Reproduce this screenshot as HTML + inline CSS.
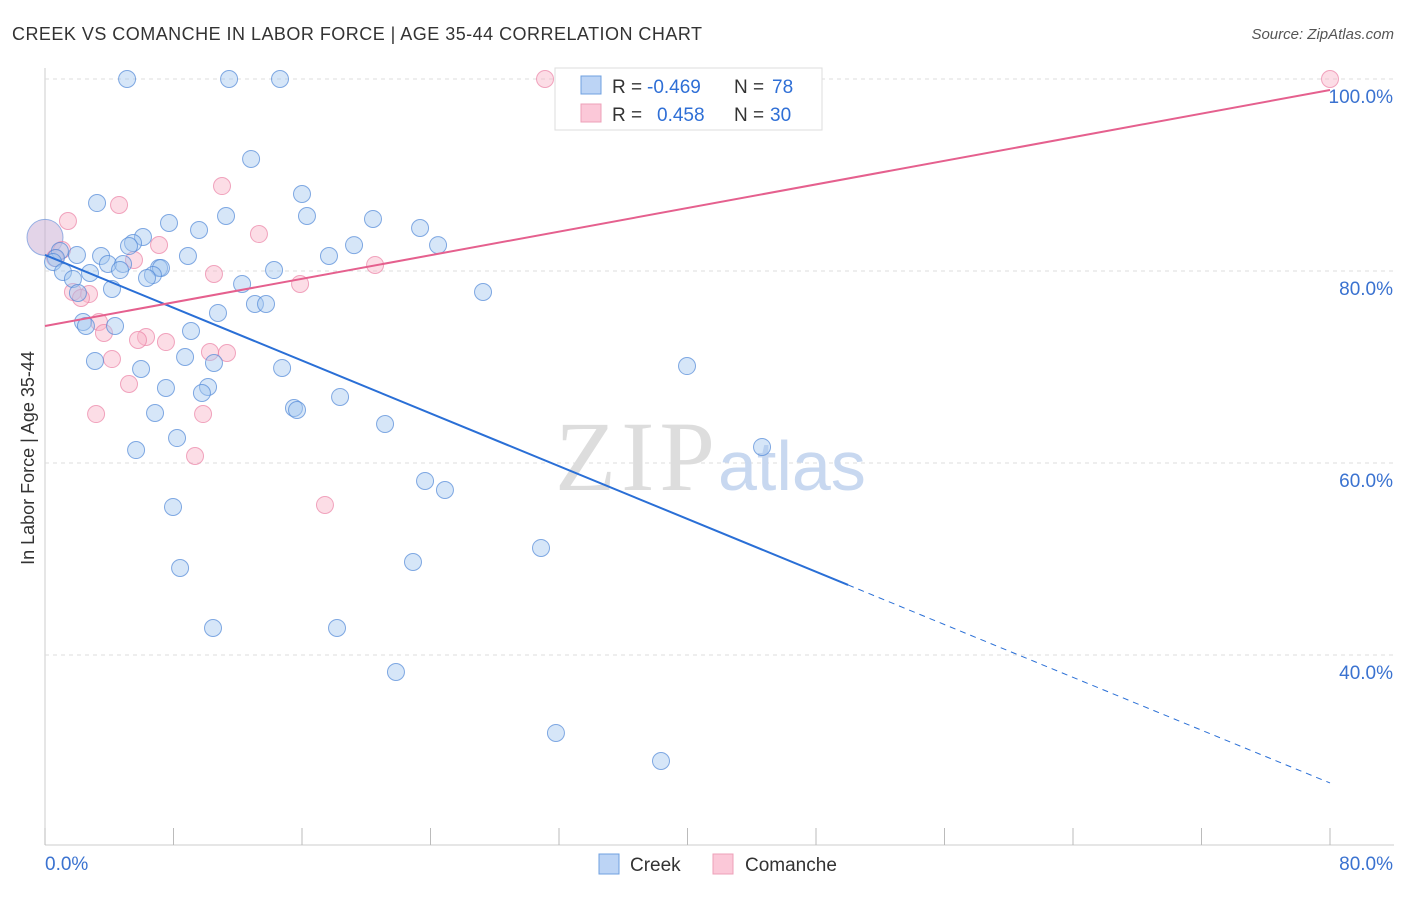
<!DOCTYPE html>
<html><head><meta charset="utf-8"><style>
body{margin:0;background:#fff;font-family:"Liberation Sans",sans-serif}
</style></head><body>
<svg width="1406" height="892" viewBox="0 0 1406 892" xmlns="http://www.w3.org/2000/svg">
<text x="12" y="40" font-size="18" fill="#333" textLength="690">CREEK VS COMANCHE IN LABOR FORCE | AGE 35-44 CORRELATION CHART</text>
<text x="1394" y="39" font-size="15" fill="#555" font-style="italic" text-anchor="end">Source: ZipAtlas.com</text>
<g id="grid"></g>
<text x="715" y="490" font-size="100" font-family="Liberation Serif,serif" fill="#ddd" text-anchor="end" textLength="160">ZIP</text>
<text x="718" y="490" font-size="70" fill="#c8d8f0">atlas</text>
<g id="pts"></g>
<g id="lines"></g>
<text x="34" y="458" font-size="18" fill="#333" text-anchor="middle" transform="rotate(-90 34 458)">In Labor Force | Age 35-44</text>
<g>
<rect x="555" y="68" width="267" height="62" fill="#fff" stroke="#ddd"/>
<rect x="581" y="76" width="20" height="18" fill="#bcd4f5" stroke="#6fa0e0"/>
<rect x="581" y="104" width="20" height="18" fill="#fbc8d8" stroke="#eea0b8"/>
<text x="612" y="93" font-size="19" fill="#333">R =</text>
<text x="647" y="93" font-size="19" fill="#2f6fd6">-0.469</text>
<text x="734" y="93" font-size="19" fill="#333">N =</text>
<text x="772" y="93" font-size="19" fill="#2f6fd6">78</text>
<text x="612" y="121" font-size="19" fill="#333">R =</text>
<text x="657" y="121" font-size="19" fill="#2f6fd6">0.458</text>
<text x="734" y="121" font-size="19" fill="#333">N =</text>
<text x="770" y="121" font-size="19" fill="#2f6fd6">30</text>
</g>
<g>
<rect x="599" y="854" width="20" height="20" fill="#bcd4f5" stroke="#6fa0e0"/>
<text x="630" y="871" font-size="19" fill="#333">Creek</text>
<rect x="713" y="854" width="20" height="20" fill="#fbc8d8" stroke="#eea0b8"/>
<text x="745" y="871" font-size="19" fill="#333">Comanche</text>
</g>
</svg>
<script>
const yTicks=[40,60,80,100];
const yTickLabels=["40.0%","60.0%","80.0%","100.0%"];
const xEndLabels=["0.0%","80.0%"];
const creekX=[5.11,11.46,14.63,12.83,16.0,3.24,16.31,11.27,7.72,20.42,23.35,9.59,6.10,5.48,5.23,19.24,24.47,0.93,0.68,1.99,3.49,8.9,17.68,0.5,3.92,4.86,7.1,7.22,4.67,1.12,2.8,14.26,6.72,6.35,1.74,12.27,4.17,27.27,2.05,13.07,13.76,10.77,2.37,2.55,4.36,9.09,3.11,8.72,10.52,5.98,14.76,39.97,10.15,7.53,9.77,18.37,15.5,15.69,6.85,21.17,8.22,5.67,44.64,23.66,24.9,7.97,30.88,22.91,8.41,10.46,18.18,21.85,31.81,38.35];
const creekY=[100,100,100,91.67,88.02,87.08,85.73,85.73,85.0,85.42,84.48,84.27,83.54,82.92,82.6,82.7,82.7,82.08,81.35,81.67,81.56,81.56,81.56,80.94,80.73,80.73,80.31,80.31,80.1,79.9,79.79,80.1,79.58,79.27,79.17,78.65,78.13,77.81,77.71,76.56,76.56,75.63,74.69,74.27,74.27,73.75,70.63,71.04,70.42,69.79,69.9,70.1,67.92,67.81,67.29,66.88,65.73,65.52,65.21,64.06,62.6,61.35,61.67,58.13,57.19,55.42,51.15,49.69,49.06,42.81,42.81,38.23,31.88,28.96];
const comX=[31.13,80,11.02,4.61,1.43,13.32,7.1,1.06,0.62,5.54,10.52,15.88,20.55,1.74,2.74,2.24,3.36,3.67,6.29,5.79,7.53,10.27,11.33,4.17,5.23,3.18,9.84,9.34,17.43];
const comY=[100,100,88.85,86.88,85.21,83.85,82.71,82.19,81.35,81.15,79.69,78.65,80.63,77.81,77.6,77.19,74.69,73.54,73.13,72.81,72.6,71.56,71.46,70.83,68.23,65.1,65.1,60.73,55.63];
const bigX=[0],bigY=[83.5];
const creekLine=[81.67,-0.6875],comLine=[74.27,0.3073];
const NS="http://www.w3.org/2000/svg";
const sx=v=>45+v*1285/80, sy=v=>79+(100-v)*9.6;
function mk(t,a,p){const e=document.createElementNS(NS,t);for(const k in a)e.setAttribute(k,a[k]);p.appendChild(e);return e;}
const grid=document.getElementById('grid');
mk('line',{x1:45,y1:68,x2:45,y2:845,stroke:'#ccc'},grid);
mk('line',{x1:45,y1:845,x2:1394,y2:845,stroke:'#ccc'},grid);
yTicks.forEach((t,i)=>{
 const l=mk('line',{x1:45,y1:sy(t),x2:1394,y2:sy(t),stroke:'#ddd','stroke-dasharray':'4 4'},grid);
 
 
 const tx=mk('text',{x:1393,y:sy(t)+24,'font-size':19,fill:'#3a72d0','text-anchor':'end'},grid);
 tx.textContent=yTickLabels[i];
 
 
});
for(let i=0;i<=10;i++){const x=sx(i*8);const l=mk('line',{x1:x,y1:828,x2:x,y2:845,stroke:'#bbb'},grid);
 
 }
[[0,'start',45],[80,'end',1393]].forEach((d,i)=>{const t=mk('text',{x:d[2],y:870,'font-size':19,fill:'#3a72d0','text-anchor':d[1]},grid);t.textContent=xEndLabels[i];
 
 });
const pts=document.getElementById('pts');
bigX.forEach((x,i)=>{const c=mk('circle',{cx:sx(x),cy:sy(bigY[i]),r:18,fill:'rgba(200,170,210,0.5)',stroke:'rgba(110,150,220,0.7)'},pts);
 
 });
comX.forEach((x,i)=>{const c=mk('circle',{cx:sx(x),cy:sy(comY[i]),r:8.5,fill:'rgba(248,180,200,0.45)',stroke:'rgba(235,130,165,0.7)'},pts);
 
 });
creekX.forEach((x,i)=>{const c=mk('circle',{cx:sx(x),cy:sy(creekY[i]),r:8.5,fill:'rgba(165,200,240,0.45)',stroke:'rgba(80,135,215,0.7)'},pts);
 
 });
const lines=document.getElementById('lines');
const f=(p,x)=>p[0]+p[1]*x;
let l=mk('line',{x1:sx(0),y1:sy(f(creekLine,0)),x2:sx(50),y2:sy(f(creekLine,50)),stroke:'#2a6fd6','stroke-width':2},lines);

l=mk('line',{x1:sx(50),y1:sy(f(creekLine,50)),x2:sx(80),y2:sy(f(creekLine,80)),stroke:'#2a6fd6','stroke-width':1,'stroke-dasharray':'6 5'},lines);

l=mk('line',{x1:sx(0),y1:sy(f(comLine,0)),x2:sx(80),y2:sy(f(comLine,80)),stroke:'#e5608e','stroke-width':2},lines);

</script>
</body></html>
